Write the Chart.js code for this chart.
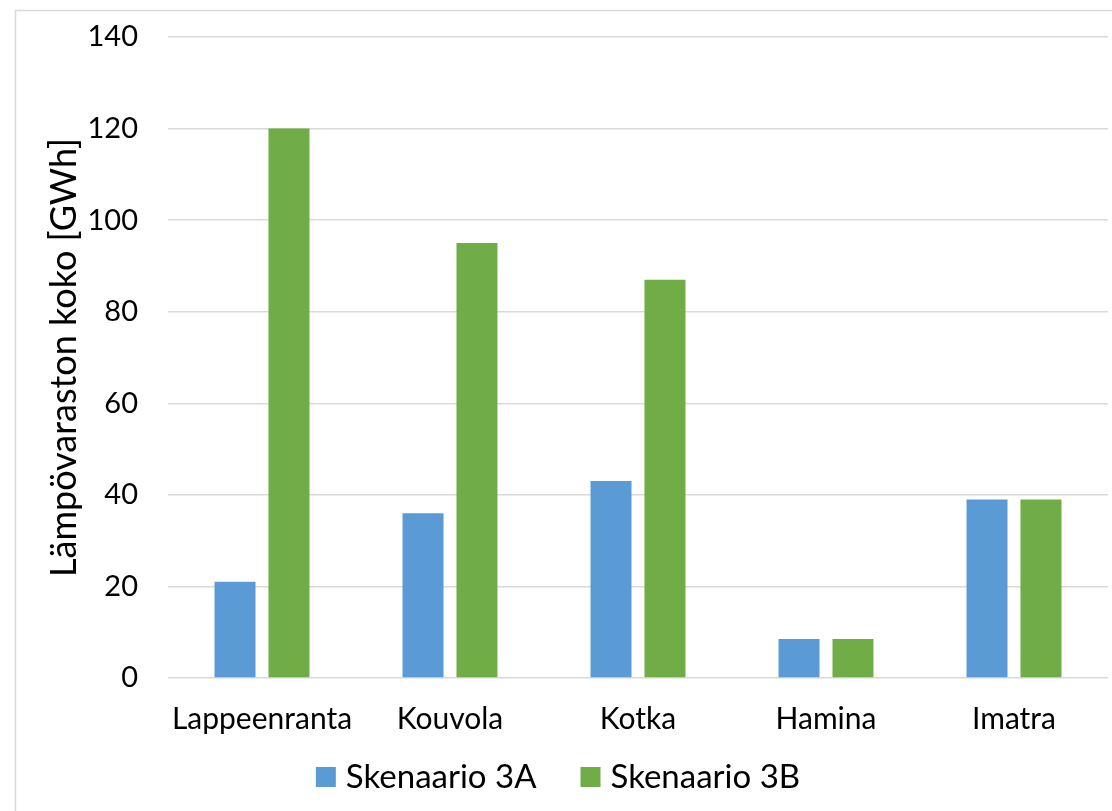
<!DOCTYPE html>
<html>
<head>
<meta charset="utf-8">
<script src="https://cdn.jsdelivr.net/npm/chart.js@4"></script>
<style>
  html, body { margin: 0; padding: 0; background: #fff; }
  canvas { display: block; }
</style>
</head>
<body>
<canvas id="storageChart" width="1112" height="811"></canvas>
<script>
/* ===== DATA ===== */

const cities = ['Lappeenranta', 'Kouvola', 'Kotka', 'Hamina', 'Imatra'];
const scenario3A = [21, 36, 43, 8.5, 39];
const scenario3B = [120, 95, 87, 8.5, 39];
const yTicks = [0, 20, 40, 60, 80, 100, 120, 140];

/* ===== HELPERS ===== */

const FONT_FAMILY = 'Lato, "Open Sans", sans-serif';
const TEXT = '#000000';
const GRID = '#d9d9d9';

// light frame round the chart, open on the right and bottom
const framePlugin = {
  id: 'frame',
  beforeDraw(chart) {
    const { ctx, width, height } = chart;
    ctx.save();
    ctx.fillStyle = '#fff';
    ctx.fillRect(0, 0, width, height);
    ctx.strokeStyle = GRID;
    ctx.lineWidth = 1.5;
    ctx.beginPath();
    ctx.moveTo(15.5, height + 2);
    ctx.lineTo(15.5, 10.5);
    ctx.lineTo(width + 2, 10.5);
    ctx.stroke();
    ctx.restore();
  }
};

// bottom legend with a tight box-to-text gap and wide spacing between items
const bottomLegendPlugin = {
  id: 'bottomLegend',
  afterDraw(chart) {
    const { ctx } = chart;
    const box = 20, boxGap = 10, itemGap = 44;
    const cx = 558, cy = 777;
    ctx.save();
    ctx.font = `33px ${FONT_FAMILY}`;
    ctx.textBaseline = 'middle';
    const items = chart.data.datasets.map(ds => ({
      text: ds.label,
      color: ds.backgroundColor,
      w: ctx.measureText(ds.label).width,
    }));
    const total = items.reduce((s, it) => s + box + boxGap + it.w, 0) + itemGap * (items.length - 1);
    let x = cx - total / 2;
    items.forEach(it => {
      ctx.fillStyle = it.color;
      ctx.fillRect(x, cy - box / 2, box, box);
      x += box + boxGap;
      ctx.fillStyle = TEXT;
      ctx.fillText(it.text, x, cy);
      x += it.w + itemGap;
    });
    ctx.restore();
  }
};

/* ===== CHART ===== */

(function() {
  const ctx = document.getElementById('storageChart');
  if (!ctx) return;

  new Chart(ctx, {
    type: 'bar',
    data: {
      labels: cities,
      datasets: [
        {
          label: 'Skenaario 3A',
          data: scenario3A,
          backgroundColor: '#5b9bd5',
          barPercentage: 0.76,
          categoryPercentage: 0.574,
        },
        {
          label: 'Skenaario 3B',
          data: scenario3B,
          backgroundColor: '#70ad47',
          barPercentage: 0.76,
          categoryPercentage: 0.574,
        },
      ]
    },
    options: {
      responsive: false,
      animation: false,
      layout: { padding: { top: 37, right: 4, bottom: 59, left: 0 } },
      plugins: {
        legend: { display: false },
        tooltip: { enabled: false }
      },
      scales: {
        x: {
          grid: { display: false },
          border: { display: false },
          ticks: {
            font: { family: FONT_FAMILY, size: 30 },
            color: TEXT,
            maxRotation: 0,
            padding: 15,
          }
        },
        y: {
          min: 0,
          max: 140,
          afterFit(scale) {
            scale.width = 168;
            scale.paddingTop = 0;
            scale.paddingBottom = 0;
          },
          afterBuildTicks(scale) { scale.ticks = yTicks.map(v => ({ value: v })); },
          grid: { color: GRID, lineWidth: 1.5, drawTicks: false },
          border: { display: false },
          title: {
            display: true,
            text: 'Lämpövaraston koko [GWh]',
            font: { family: FONT_FAMILY, size: 36 },
            color: TEXT,
            padding: { top: 43, bottom: 0 },
          },
          ticks: {
            font: { family: FONT_FAMILY, size: 29 },
            color: TEXT,
            padding: 30,
          }
        }
      }
    },
    plugins: [framePlugin, bottomLegendPlugin]
  });
})();
</script>
</body>
</html>
